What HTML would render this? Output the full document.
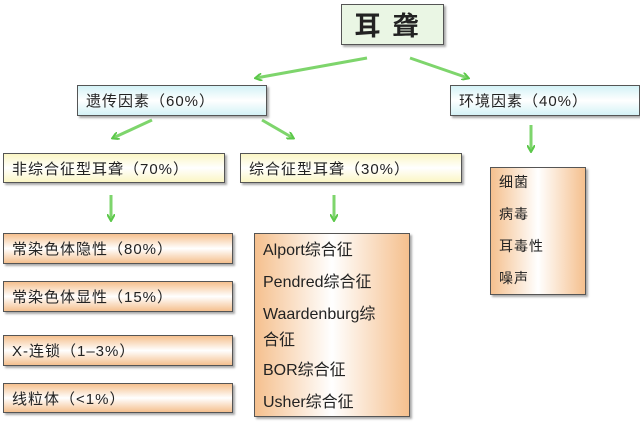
<!DOCTYPE html>
<html><head><meta charset="utf-8"><style>
body{margin:0;width:640px;height:422px;background:#fff;position:relative;overflow:hidden;font-family:"Liberation Sans","Noto Sans CJK SC",sans-serif;color:#222}
.b{position:absolute;box-sizing:border-box;border:1px solid #555;box-shadow:2px 2px 2px #aaa;font-size:15px;display:flex;align-items:center;padding-left:8px;letter-spacing:1px}
.c{background:linear-gradient(#d4f2f6,#fff 50%,#d4f2f6)}
.y{background:linear-gradient(#fbf6c4,#fff 50%,#fbf6c4)}
.o{background:linear-gradient(#f5c08e,#fff 50%,#f5c08e)}
.ov{background:linear-gradient(90deg,#f5c08e,#fff 50%,#f5c08e);display:block;padding-top:6px;font-size:15px}
.ov div{margin-bottom:10px;line-height:20px}
.s div{line-height:22px;margin-bottom:10px}
</style></head><body>
<div class="b" style="left:341px;top:4px;width:103px;height:41px;background:#eaf6e4;font-size:26px;justify-content:center;padding:0;letter-spacing:12px;font-weight:bold">耳聋</div>
<div class="b c" style="left:77px;top:85px;width:190px;height:31px">遗传因素（60%）</div>
<div class="b c" style="left:450px;top:85px;width:190px;height:31px">环境因素（40%）</div>
<div class="b y" style="left:3px;top:153px;width:222px;height:30px">非综合征型耳聋（70%）</div>
<div class="b y" style="left:240px;top:153px;width:222px;height:30px">综合征型耳聋（30%）</div>
<div class="b o" style="left:3px;top:233px;width:230px;height:31px">常染色体隐性（80%）</div>
<div class="b o" style="left:3px;top:281px;width:230px;height:31px">常染色体显性（15%）</div>
<div class="b o" style="left:3px;top:335px;width:230px;height:31px">X-连锁（1–3%）</div>
<div class="b o" style="left:3px;top:383px;width:230px;height:30px">线粒体（&lt;1%）</div>
<div class="b ov s" style="left:254px;top:233px;width:156px;height:184px;font-size:16px;letter-spacing:0;padding-top:6px">
<div>Alport综合征</div><div>Pendred综合征</div><div style="line-height:26px;margin-bottom:6px;margin-top:-2px">Waardenburg综<br>合征</div><div>BOR综合征</div><div>Usher综合征</div></div>
<div class="b ov" style="left:490px;top:167px;width:96px;height:128px;padding-top:4px;font-size:14px"><div style="margin-bottom:12px">细菌</div><div style="margin-bottom:12px">病毒</div><div style="margin-bottom:12px">耳毒性</div><div>噪声</div></div>
<svg width="640" height="422" style="position:absolute;left:0;top:0">
<defs><marker id="a" markerWidth="8" markerHeight="8" refX="6" refY="4" orient="auto" markerUnits="userSpaceOnUse"><path d="M0,0 L7,4 L0,8" fill="none" stroke="#5cc84a" stroke-width="2"/></marker></defs>
<g stroke="#7ed56c" stroke-width="3" fill="none" marker-end="url(#a)">
<line x1="367" y1="58" x2="256" y2="78"/>
<line x1="410" y1="58" x2="468" y2="78"/>
<line x1="152" y1="120" x2="113" y2="138"/>
<line x1="262" y1="120" x2="293" y2="138"/>
<line x1="531" y1="125" x2="531" y2="151"/>
<line x1="111" y1="195" x2="111" y2="220"/>
<line x1="334" y1="195" x2="334" y2="220"/>
</g></svg>
</body></html>
